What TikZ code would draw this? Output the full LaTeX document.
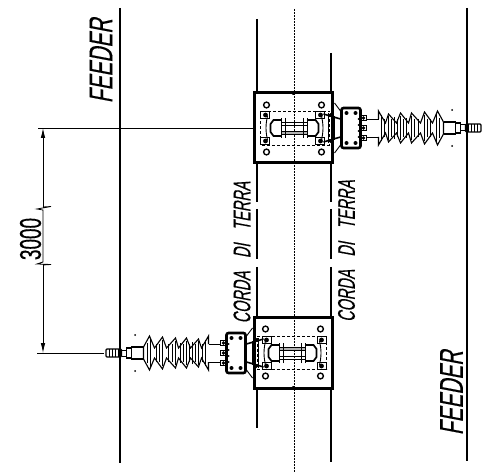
\documentclass[tikz,border=0pt]{standalone}
\usepackage{fontspec}
\setmainfont{Liberation Sans}
\newfontfamily\drawingfont{Liberation Sans}[FakeSlant=0.3, FakeBold=0.5]
\newfontfamily\numberfont{Liberation Sans}[FakeBold=0.5]
\usetikzlibrary{arrows.meta, positioning}

\tikzset{
    feederline/.style={line width=2pt},
    wireline/.style={line width=2.8pt},
    dimline/.style={line width=0.8pt},
    plateline/.style={line width=3pt},
    partline/.style={line width=0.9pt},
    cliptext/.style={rotate=90, xscale=0.6, font=\drawingfont\fontsize{24}{24}\selectfont, inner sep=0pt},
    feedertext/.style={rotate=90, xscale=0.63, font=\drawingfont\fontsize{33}{33}\selectfont, inner sep=0pt},
    pics/supportset/.style={code={
        % Plate
        \draw[plateline] (-39,-35) rectangle (39,35);
        \draw[line width=0.6pt, densely dashed] (-33,-16.5) rectangle (36,17);
        \fill (0,-35) circle (2);
        \foreach \px/\py in {-27/-23, 28/-23, -27/24, 28/24}
            \draw[line width=1.4pt] (\px,\py) circle (2.9);
        % Corner bolts
        \foreach \px/\py in {-29/-13, 26/-13, -29/13, 26/13} {
            \draw[partline] (\px-4,\py-3.5) rectangle (\px+5,\py+3.5);
            \fill (\px+1,\py) circle (2.4);
        }
        % Shackle
        \draw[partline] (-12,-6) rectangle (14,-3);
        \fill[gray!60] (-12,3) rectangle (14,6);
        \draw[partline] (-12,3) rectangle (14,6);
        \draw[line width=1.7pt] (-12,-8) -- (-20,-8) -- (-23,-4) -- (-23,4) -- (-20,8) -- (-12,8);
        \draw[line width=1.7pt] (14,-8) -- (22,-8) -- (25,-4) -- (25,4) -- (22,8) -- (14,8);
        \draw[line width=1.2pt] (-12,-10) -- (-12,10) (-8,-10) -- (-8,10);
        \draw[line width=1.2pt] (10,-10) -- (10,10) (14,-10) -- (14,10);
        \draw[partline] (-26,-12) .. controls (-28,-3) and (-28,3) .. (-26,12);
        \draw[partline] (28,-12) .. controls (30,-3) and (30,3) .. (28,12);
        % Link to clamp
        \draw[line width=1.6pt] (30,-14) -- (47,-9) (30,14) -- (47,9);
        \draw[line width=1.6pt] (35,-15) -- (35,15);
        \draw[line width=1pt] (38,-13) -- (38,13) (41,-12) -- (41,12);
        \draw[partline] (41,-25) -- (47,-17) (41,25) -- (47,17);
        \fill (38,-13) circle (2.2) (38,13) circle (2.2);
        % Clamp
        \draw[line width=2.6pt, rounded corners=2pt] (48,-20) rectangle (67,20);
        \foreach \px/\py in {53/-15, 62/-15, 53/15, 62/15}
            \fill (\px,\py) circle (2);
        \foreach \py in {-9,-3,3,9}
            \fill (65,\py) circle (1);
        \foreach \py in {-10,0,10} {
            \draw[partline] (67,\py-2.8) rectangle (73,\py+2.8);
            \fill (70,\py) circle (1.9);
        }
        % Insulator
        \draw[partline] (73,-9) -- (85,-9) (73,9) -- (85,9);
        \draw[line width=1.1pt] (85,-9) -- (85,-17) -- (92,-5) -- (95,-14) -- (103,-5) -- (107,-15)
            -- (115,-5) -- (118,-15) -- (127,-5) -- (131,-16) -- (139,-5) -- (144,-17) -- (150,-6)
            -- (150,6) -- (144,17) -- (139,5) -- (131,16) -- (127,5) -- (118,15) -- (115,5)
            -- (107,15) -- (103,5) -- (95,14) -- (92,5) -- (85,17) -- (85,9);
        \foreach \px/\py in {88/13, 91/9, 95/12, 98/9, 101/11, 104/9, 107/12, 110/9, 113/10, 118/12, 121/9, 125/9, 131/13, 134/9, 137/9, 143/14, 146/10}
            \draw[line width=0.8pt] (\px,-\py) -- (\px,\py);
        % Terminal
        \draw[line width=1.1pt] (150,-6) -- (162,-6) -- (162,6) -- (150,6);
        \draw[line width=1.2pt] (162,-5) -- (167,-5) -- (167,5) -- (162,5);
        \draw[line width=1pt] (167,-3) -- (172,-3) (167,3) -- (172,3);
        \draw[line width=1.2pt, rounded corners=1pt] (172,-4) rectangle (187.5,4);
        \foreach \px in {175,178,181,184}
            \draw[line width=0.8pt] (\px,-4) -- (\px,4);
        % Marks
        \fill (158.5,-18) circle (1) (158.5,18) circle (1);
    }},
}

\begin{document}
\begin{tikzpicture}[x=1pt, y=-1pt]

    \useasboundingbox (0,0) rectangle (493,473);

    % Feeder
    \draw[feederline] (119.5,8) -- (119.5,463);
    \draw[feederline] (467,8) -- (467,461);

    % Center line
    \draw[line width=0.5pt, densely dotted] (294,9) -- (294,472);

    % Ground wire
    \draw[wireline] (257,19) -- (257,93);
    \draw[wireline] (331,53) -- (331,93);
    \draw[wireline] (257,388) -- (257,428);
    \draw[wireline] (331,388) -- (331,462);
    \foreach \wx in {257,331} {
        \draw[wireline] (\wx,163) -- (\wx,202);
        \draw[wireline] (\wx,209) -- (\wx,259);
        \draw[wireline] (\wx,267) -- (\wx,318);
    }

    % Supports
    \pic at (293.5,128) {supportset};
    \pic[rotate=180] at (293.5,353) {supportset};

    % Dimension
    \coordinate (dimtop) at (43,128);
    \coordinate (dimbottom) at (43,353);
    \draw[dimline] (38,128) -- (253,128);
    \draw[dimline] (37,353) -- (104,353);
    \draw[dimline, -{Latex[length=10pt, width=4.5pt]}] (43,207) -- (dimtop);
    \draw[dimline, -{Latex[length=10pt, width=4.5pt]}] (43,265) -- (dimbottom);
    \draw[dimline] (43,207) -- (51,206.5) -- (37,209) -- (43,210) -- (43,262) -- (37,264) -- (51,264.5) -- (43,265);
    \node[rotate=90, inner sep=0pt, xscale=0.63, font=\numberfont\fontsize{30}{30}\selectfont] (dimlabel) at (30.5,239) {3000};

    % Labels
    \node[feedertext] (feederleft) at (101,61) {FEEDER};
    \node[feedertext] (feederright) at (451.5,393) {FEEDER};
    \node[cliptext] (cordaleft) at (242,252.5) {CORDA\hspace{22pt}DI\hspace{22pt}TERRA};
    \node[cliptext] (cordaright) at (346.5,251) {CORDA\hspace{22pt}DI\hspace{22pt}TERRA};

\end{tikzpicture}
\end{document}
